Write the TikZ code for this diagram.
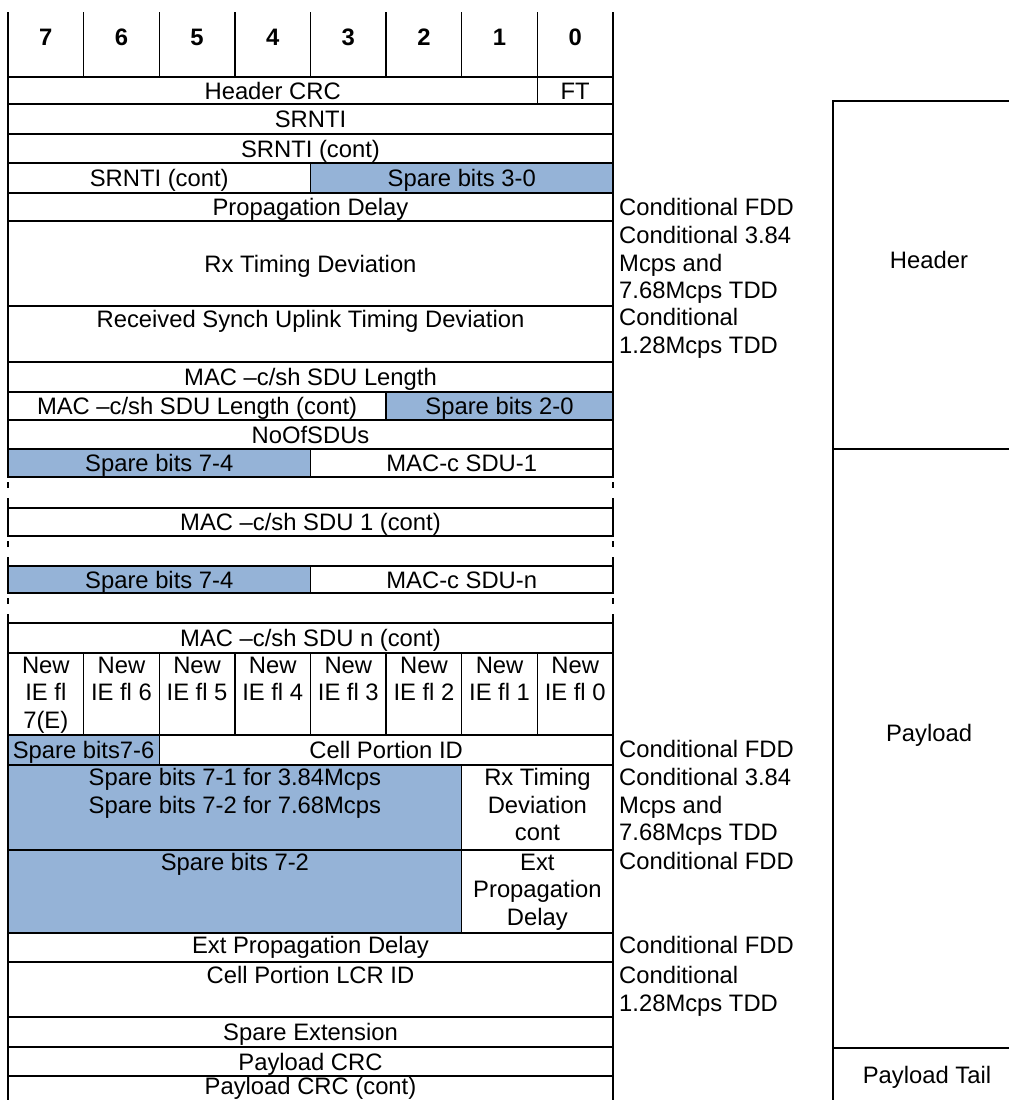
\documentclass[tikz,border=0pt]{standalone}
\usepackage{fontspec}
\setmainfont{Liberation Sans}
\usepackage{tikz}
\usetikzlibrary{positioning}
\definecolor{spareblue}{RGB}{149,179,215}
\tikzset{
  rowline/.style={line width=1.3pt, line cap=rect},
  gapline/.style={line width=1.3pt, dash pattern=on 6pt off 10pt on 10pt off 5pt, dash phase=26pt},
  txt/.style={inner sep=0pt, text height=17pt, text depth=0pt, font=\fontsize{23.8}{27.5}\selectfont},
  bitnum/.style={txt, font=\fontsize{23.8}{27.5}\selectfont\bfseries},
  mtxt/.style={inner sep=0pt, anchor=north, align=center, font=\fontsize{23.8}{27.5}\selectfont},
  cond/.style={inner sep=0pt, anchor=north west, align=left, font=\fontsize{23.8}{27.5}\selectfont}
}
\begin{document}
\begin{tikzpicture}[x=1pt,y=-1pt]
\useasboundingbox (0,0) rectangle (1009,1100);
\clip (0,0) rectangle (1009,1100);
\def\cw{75.625}
% spare fields
\fill[spareblue] (310.5,163) rectangle (613,193);
\fill[spareblue] (386.125,392) rectangle (613,420);
\fill[spareblue] (8,449) rectangle (310.5,477);
\fill[spareblue] (8,566) rectangle (310.5,593);
\fill[spareblue] (8,735) rectangle (159.25,765);
\fill[spareblue] (8,765) rectangle (461.75,933);
% table lines
\foreach \y in {77,104,134,163,193,221,306,362,392,420,449,477,508,536,566,593,623,653,735,765,850,933,962,1017,1047,1076}
  \draw[rowline] (8,\y) -- (613,\y);
\foreach \x in {8,613} {
  \draw[rowline] (\x,12.7) -- (\x,477);
  \draw[rowline] (\x,508) -- (\x,536);
  \draw[rowline] (\x,566) -- (\x,593);
  \draw[rowline] (\x,623) -- (\x,1100);
  \foreach \ya/\yb in {477/508,536/566,593/623}
    \draw[gapline] (\x,\ya) -- (\x,\yb);
}
\foreach \i in {1,...,7} {
  \draw[rowline] (8+\i*\cw,12.7) -- (8+\i*\cw,77);
  \draw[rowline] (8+\i*\cw,653) -- (8+\i*\cw,735);
}
\draw[rowline] (537.375,77) -- (537.375,104);
\draw[rowline] (310.5,163) -- (310.5,193);
\draw[rowline] (386.125,392) -- (386.125,420);
\draw[rowline] (310.5,449) -- (310.5,477);
\draw[rowline] (310.5,566) -- (310.5,593);
\draw[rowline] (159.25,735) -- (159.25,765);
\draw[rowline] (461.75,765) -- (461.75,933);
% bit numbers
\foreach \i/\b in {0/7,1/6,2/5,3/4,4/3,5/2,6/1,7/0}
  \node[bitnum] (bit\b) at (8+\i*\cw+0.5*\cw,37) {\b};
% fields
\node[txt] (hdrcrc) at (272.7,90.5) {Header CRC};
\node[txt] (ft) at (575.2,90.5) {FT};
\node[txt] (srnti) at (310.5,119) {SRNTI};
\node[txt] (srnticonta) at (310.5,148.5) {SRNTI (cont)};
\node[txt] (srnticontb) at (159.25,178) {SRNTI (cont)};
\node[txt] (spare30) at (461.75,178) {Spare bits 3-0};
\node[txt] (propdelay) at (310.5,207) {Propagation Delay};
\node[txt] (rxtiming) at (310.5,263.5) {Rx Timing Deviation};
\node[txt] (rsutd) at (310.5,319) {Received Synch Uplink Timing Deviation};
\node[txt] (sdulen) at (310.5,377) {MAC –c/sh SDU Length};
\node[txt] (sdulencont) at (197.06,406) {MAC –c/sh SDU Length (cont)};
\node[txt] (spare20) at (499.56,406) {Spare bits 2-0};
\node[txt] (noofsdus) at (310.5,434.5) {NoOfSDUs};
\node[txt] (spare74a) at (159.25,463) {Spare bits 7-4};
\node[txt] (sdu1) at (461.75,463) {MAC-c SDU-1};
\node[txt] (sdu1cont) at (310.5,522) {MAC –c/sh SDU 1 (cont)};
\node[txt] (spare74b) at (159.25,579.5) {Spare bits 7-4};
\node[txt] (sdun) at (461.75,579.5) {MAC-c SDU-n};
\node[txt] (sduncont) at (310.5,638) {MAC –c/sh SDU n (cont)};
\node[mtxt] (ie7) at (8+0.5*\cw,656.5) {New\\IE fl\\7(E)};
\foreach \i/\b in {1/6,2/5,3/4,4/3,5/2,6/1,7/0}
  \node[mtxt] (ie\b) at (8+\i*\cw+0.5*\cw,656.5) {New\\IE fl \b};
\node[txt] (spare76) at (83.625,750) {Spare bits7-6};
\node[txt] (cellportion) at (386.125,750) {Cell Portion ID};
\node[mtxt] (spare71) at (234.875,768.5) {Spare bits 7-1 for 3.84Mcps\\Spare bits 7-2 for 7.68Mcps};
\node[mtxt] (rxtimingcont) at (537.375,768.5) {Rx Timing\\Deviation\\cont};
\node[mtxt] (spare72) at (234.875,853.5) {Spare bits 7-2};
\node[mtxt] (extprop) at (537.375,853.5) {Ext\\Propagation\\Delay};
\node[txt] (extpropdelay) at (310.5,945) {Ext Propagation Delay};
\node[mtxt] (cellportionlcr) at (310.5,966.5) {Cell Portion LCR ID};
\node[txt] (spareext) at (310.5,1032) {Spare Extension};
\node[txt] (payloadcrc) at (310.5,1061.5) {Payload CRC};
\node[txt] (payloadcrccont) at (310.5,1086) {Payload CRC (cont)};
% conditions
\node[cond] (condfdda) at (619,198.5) {Conditional FDD};
\node[cond] (cond384a) at (619,226.5) {Conditional 3.84\\Mcps and\\7.68Mcps TDD};
\node[cond] (cond128a) at (619,308.5) {Conditional\\1.28Mcps TDD};
\node[cond] (condfddb) at (619,740.5) {Conditional FDD};
\node[cond] (cond384b) at (619,768.5) {Conditional 3.84\\Mcps and\\7.68Mcps TDD};
\node[cond] (condfddc) at (619,852.5) {Conditional FDD};
\node[cond] (condfddd) at (619,936.5) {Conditional FDD};
\node[cond] (cond128b) at (619,966.5) {Conditional\\1.28Mcps TDD};
% frame parts
\draw[rowline] (1009,101) -- (833,101) -- (833,1100);
\draw[rowline] (833,449) -- (1009,449);
\draw[rowline] (833,1048) -- (1009,1048);
\node[txt] (header) at (929,260) {Header};
\node[txt] (payload) at (929,733) {Payload};
\node[txt] (payloadtail) at (927,1075) {Payload Tail};
\end{tikzpicture}
\end{document}
